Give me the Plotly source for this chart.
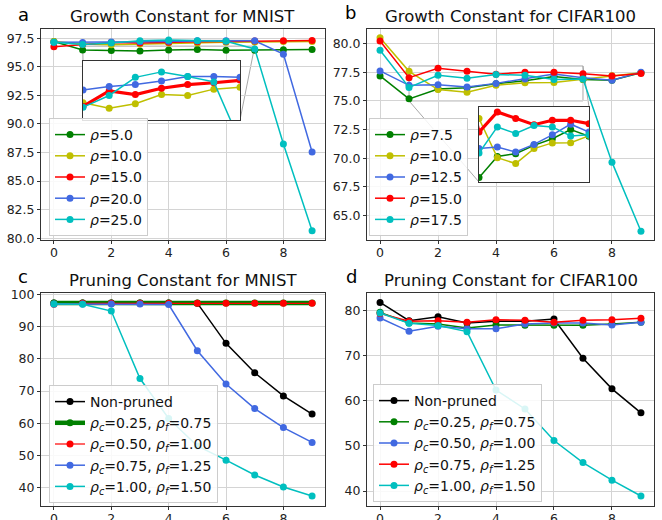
import plotly.graph_objects as go

# ---------------- data ----------------
X = list(range(10))
X_TICKS = [0, 2, 4, 6, 8]

TITLES = ["Growth Constant for MNIST", "Growth Constant for CIFAR100",
          "Pruning Constant for MNIST", "Pruning Constant for CIFAR100"]
LETTERS = ["a", "b", "c", "d"]

# panel a
A_LABELS = ["<i>ρ</i>=5.0", "<i>ρ</i>=10.0", "<i>ρ</i>=15.0", "<i>ρ</i>=20.0", "<i>ρ</i>=25.0"]
A_RHO5 = [97.20, 96.47, 96.42, 96.38, 96.47, 96.50, 96.44, 96.45, 96.48, 96.50]
A_RHO10 = [97.20, 96.99, 96.93, 96.98, 97.08, 97.07, 97.14, 97.16, 97.20, 97.20]
A_RHO15 = [96.75, 96.95, 97.12, 97.08, 97.15, 97.19, 97.21, 97.24, 97.28, 97.29]
A_RHO20 = [97.15, 97.13, 97.17, 97.19, 97.23, 97.28, 97.28, 97.27, 96.10, 87.55]
A_RHO25 = [97.15, 96.94, 97.07, 97.27, 97.33, 97.28, 97.22, 96.56, 88.25, 80.65]
A_YTICKS = [80.0, 82.5, 85.0, 87.5, 90.0, 92.5, 95.0, 97.5]

# panel b
B_LABELS = ["<i>ρ</i>=7.5", "<i>ρ</i>=10.0", "<i>ρ</i>=12.5", "<i>ρ</i>=15.0", "<i>ρ</i>=17.5"]
B_RHO7_5 = [77.18, 75.18, 76.04, 76.15, 76.49, 76.76, 77.13, 76.86, 76.80, 77.45]
B_RHO10 = [80.52, 77.58, 75.99, 75.75, 76.36, 76.59, 76.60, 76.90, 77.20, 77.45]
B_RHO12_5 = [77.62, 76.36, 76.42, 76.22, 76.53, 76.92, 77.35, 77.03, 76.80, 77.50]
B_RHO15 = [80.23, 77.03, 77.85, 77.58, 77.33, 77.51, 77.51, 77.37, 77.18, 77.40]
B_RHO17_5 = [79.42, 76.18, 77.24, 76.97, 77.30, 77.24, 76.87, 76.92, 69.65, 63.62]
B_YTICKS = [65.0, 67.5, 70.0, 72.5, 75.0, 77.5, 80.0]

# pruning labels
P_LABELS = ["Non-pruned",
            "<i>ρ<sub>c</sub></i>=0.25, <i>ρ<sub>f</sub></i>=0.75",
            "<i>ρ<sub>c</sub></i>=0.50, <i>ρ<sub>f</sub></i>=1.00",
            "<i>ρ<sub>c</sub></i>=0.75, <i>ρ<sub>f</sub></i>=1.25",
            "<i>ρ<sub>c</sub></i>=1.00, <i>ρ<sub>f</sub></i>=1.50"]

# panel c
C_NONPRUNED = [97.30, 97.30, 97.30, 97.30, 97.30, 97.25, 84.80, 75.70, 68.50, 62.90]
C_025 = [97.30, 97.30, 97.30, 97.30, 97.30, 97.30, 97.30, 97.30, 97.30, 97.30]
C_050 = [96.90, 97.20, 97.20, 97.20, 97.20, 97.20, 97.20, 97.20, 97.20, 97.20]
C_075 = [97.00, 97.00, 97.00, 97.00, 96.80, 82.50, 72.20, 64.60, 58.70, 54.10]
C_100 = [97.00, 96.90, 94.80, 73.90, 61.50, 53.00, 48.60, 44.00, 40.30, 37.50]
C_YTICKS = [40, 50, 60, 70, 80, 90, 100]

# panel d
D_NONPRUNED = [81.84, 77.79, 78.67, 77.27, 77.64, 77.64, 78.15, 69.45, 62.66, 57.34]
D_025 = [79.63, 77.27, 77.05, 76.16, 76.82, 76.75, 76.75, 76.75, 77.05, 77.42]
D_050 = [78.37, 75.42, 76.53, 76.00, 76.00, 77.05, 77.27, 77.27, 76.82, 77.42]
D_075 = [79.40, 77.64, 77.79, 77.42, 78.00, 77.86, 77.42, 77.86, 78.00, 78.30]
D_100 = [79.50, 77.20, 76.70, 75.35, 62.40, 58.20, 51.20, 46.30, 42.40, 38.90]
D_YTICKS = [40, 50, 60, 70, 80]

# ---------------- style ----------------
FONT = "DejaVu Sans"
GREEN, YELLOW, RED, BLUE, CYAN, BLACK = "#008000", "#bfbf00", "#ff0000", "#4169e1", "#00bfbf", "#000000"
W, H = 662, 520


def fx(p):
    return p / W


def fy(p):
    return 1 - p / H


# plot-area boxes in pixels: (left, top, right, bottom)
BOX = {
    1: (41, 29, 325, 240),
    2: (367, 29, 654, 240),
    3: (41, 293, 325, 506),
    4: (367, 293, 654, 506),
    5: (83, 61, 240, 120),     # inset a
    6: (479, 107, 589, 182),   # inset b
}
XR = [-0.45, 9.45]
YR = {1: [79.85, 98.3], 2: [62.85, 81.28], 3: [34.4, 100.4], 4: [36.68, 83.92],
      5: [96.8, 97.45], 6: [75.0, 78.05]}
INSET_XR = [1, 7]

fig = go.Figure()


def add(xn, series, labels, colors, legend, widths=None, showlegend=True):
    for i, (ys, lab, col) in enumerate(zip(series, labels, colors)):
        w = widths[i] if widths else 1.5
        fig.add_trace(go.Scatter(
            x=X, y=ys, name=lab, mode="lines+markers",
            line=dict(color=col, width=w),
            marker=dict(color=col, size=7),
            xaxis="x" if xn == 1 else f"x{xn}", yaxis="y" if xn == 1 else f"y{xn}",
            legend=legend, showlegend=showlegend, hoverinfo="skip"))


A_SER = [A_RHO5, A_RHO10, A_RHO15, A_RHO20, A_RHO25]
B_SER = [B_RHO7_5, B_RHO10, B_RHO12_5, B_RHO15, B_RHO17_5]
A_COLORS = [GREEN, YELLOW, RED, BLUE, CYAN]
B_COLORS = [GREEN, YELLOW, BLUE, RED, CYAN]

add(1, A_SER, A_LABELS, A_COLORS, "legend")
add(2, B_SER, B_LABELS, B_COLORS, "legend2")
add(3, [C_NONPRUNED, C_025, C_050, C_075, C_100], P_LABELS,
    [BLACK, GREEN, RED, BLUE, CYAN], "legend3", widths=[1.5, 4.5, 1.2, 1.5, 1.5])
add(4, [D_NONPRUNED, D_025, D_050, D_075, D_100], P_LABELS,
    [BLACK, GREEN, BLUE, RED, CYAN], "legend4")
# insets
add(5, A_SER, A_LABELS, A_COLORS, "legend", widths=[1.5, 1.5, 3.2, 1.5, 1.5], showlegend=False)
add(6, B_SER, B_LABELS, B_COLORS, "legend2", widths=[1.5, 1.5, 1.5, 3.2, 1.5], showlegend=False)

layout = dict(
    width=W, height=H, margin=dict(l=0, r=0, t=0, b=0),
    paper_bgcolor="white", plot_bgcolor="white", template="none",
    font=dict(family=FONT, size=12, color="#222"),
)

YTICKS = {1: A_YTICKS, 2: B_YTICKS, 3: C_YTICKS, 4: D_YTICKS}
for n, (l, t, r, b) in BOX.items():
    xk = "xaxis" if n == 1 else f"xaxis{n}"
    yk = "yaxis" if n == 1 else f"yaxis{n}"
    xa = "x" if n == 1 else f"x{n}"
    ya = "y" if n == 1 else f"y{n}"
    inset = n >= 5
    common = dict(showline=True, mirror=True, linecolor="#333", linewidth=1,
                  zeroline=False, fixedrange=True)
    if inset:
        layout[xk] = dict(domain=[fx(l), fx(r)], range=INSET_XR, anchor=ya,
                          showgrid=False, showticklabels=False, ticks="", **common)
        layout[yk] = dict(domain=[fy(b), fy(t)], range=YR[n], anchor=xa,
                          showgrid=False, showticklabels=False, ticks="", **common)
    else:
        yt = YTICKS[n]
        fmt = ".1f" if n <= 2 else "d"
        layout[xk] = dict(domain=[fx(l), fx(r)], range=XR, anchor=ya,
                          tickvals=X_TICKS, ticks="outside", ticklen=3, tickcolor="#333",
                          ticklabelstandoff=-2,
                          showgrid=True, gridcolor="#d4d4d4", gridwidth=1,
                          tickfont=dict(size=12.5), **common)
        layout[yk] = dict(domain=[fy(b), fy(t)], range=YR[n], anchor=xa,
                          tickvals=yt, tickformat=fmt, ticks="outside", ticklen=3, tickcolor="#333",
                          showgrid=True, gridcolor="#d4d4d4", gridwidth=1,
                          tickfont=dict(size=12.5), **common)

leg_common = dict(xanchor="left", yanchor="top", bgcolor="rgba(255,255,255,0.85)",
                  bordercolor="#cccccc", borderwidth=1, tracegroupgap=0,
                  font=dict(family=FONT, size=14, color="#111"))
layout["legend"] = dict(x=fx(49), y=fy(118), **leg_common)
layout["legend2"] = dict(x=fx(369), y=fy(118), **leg_common)
layout["legend3"] = dict(x=fx(49), y=fy(385), **leg_common)
layout["legend4"] = dict(x=fx(373), y=fy(384), **leg_common)

annotations = []
for n in range(1, 5):
    l, t, r, b = BOX[n]
    annotations.append(dict(text=TITLES[n - 1], x=fx((l + r) / 2), y=fy(t), xref="paper", yref="paper",
                            xanchor="center", yanchor="bottom", yshift=1, showarrow=False,
                            font=dict(family=FONT, size=16.5, color="#111")))
LETTER_POS = [(23, 14), (350, 12), (23, 276), (351, 276)]
for (px, py), letter in zip(LETTER_POS, LETTERS):
    annotations.append(dict(text=letter, x=fx(px), y=fy(py), xref="paper", yref="paper",
                            xanchor="center", yanchor="middle", showarrow=False,
                            font=dict(family=FONT, size=18, color="#000")))
layout["annotations"] = annotations


# zoom rectangles + connector lines (computed from axis ranges/domains)
def data_to_px(n, xv, yv):
    l, t, r, b = BOX[n]
    xr, yr = XR, YR[n]
    px = l + (xv - xr[0]) / (xr[1] - xr[0]) * (r - l)
    py = b - (yv - yr[0]) / (yr[1] - yr[0]) * (b - t)
    return px, py


shapes = []
GRAY = "#a8a8a8"
for main, ins, corners in [(1, 5, [("lr", "lr"), ("ul", "ul")]), (2, 6, [("ll", "ll"), ("ur", "ur")])]:
    y0, y1 = YR[ins]
    x0, x1 = INSET_XR
    ax = "x" if main == 1 else f"x{main}"
    ay = "y" if main == 1 else f"y{main}"
    shapes.append(dict(type="rect", xref=ax, yref=ay, x0=x0, x1=x1, y0=y0, y1=y1,
                       line=dict(color=GRAY, width=1), layer="below"))
    il, it, ir, ib = BOX[ins]
    rect_c = {"ll": data_to_px(main, x0, y0), "lr": data_to_px(main, x1, y0),
              "ul": data_to_px(main, x0, y1), "ur": data_to_px(main, x1, y1)}
    ins_c = {"ll": (il, ib), "lr": (ir, ib), "ul": (il, it), "ur": (ir, it)}
    for rc, ic in corners:
        (ax_, ay_), (bx_, by_) = rect_c[rc], ins_c[ic]
        shapes.append(dict(type="line", xref="paper", yref="paper",
                           x0=fx(ax_), y0=fy(ay_), x1=fx(bx_), y1=fy(by_),
                           line=dict(color=GRAY, width=1), layer="below"))
layout["shapes"] = shapes

fig.update_layout(**layout)
fig.write_html("out.html", config={"displayModeBar": False},
               post_script="document.body.style.margin='0';document.body.style.overflow='hidden';")
